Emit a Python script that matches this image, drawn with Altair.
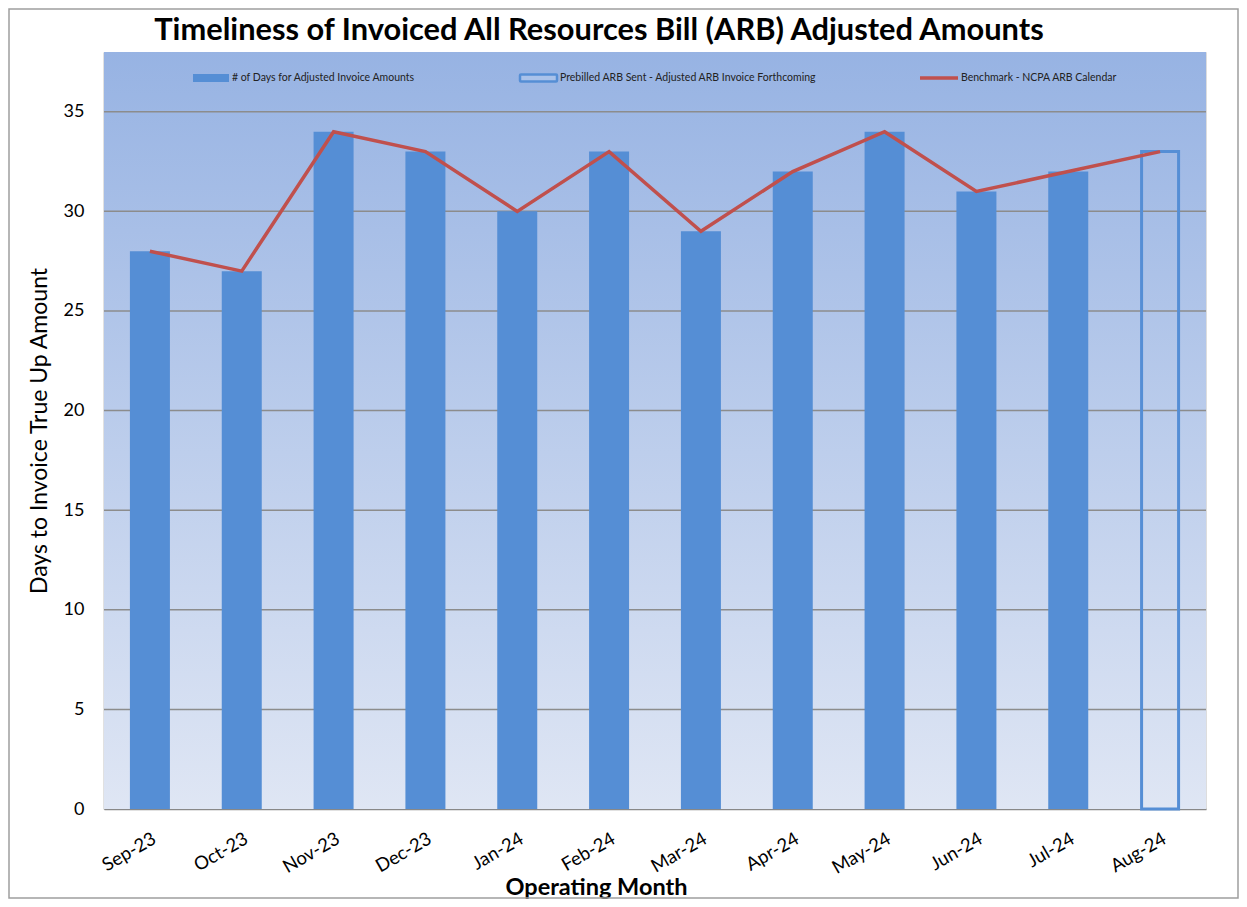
import altair as alt
import pandas as pd

months = ["Sep-23", "Oct-23", "Nov-23", "Dec-23", "Jan-24", "Feb-24",
          "Mar-24", "Apr-24", "May-24", "Jun-24", "Jul-24", "Aug-24"]
days_adjusted = [28, 27, 34, 33, 30, 33, 29, 32, 34, 31, 32, None]
prebilled = [None, None, None, None, None, None, None, None, None, None, None, 33]
benchmark = [28, 27, 34, 33, 30, 33, 29, 32, 34, 31, 32, 33]
grid_values = [5, 10, 15, 20, 25, 30, 35]
y_ticks = [0, 5, 10, 15, 20, 25, 30, 35]
legend_labels = ["# of Days for Adjusted Invoice Amounts",
                 "Prebilled ARB Sent - Adjusted ARB Invoice Forthcoming",
                 "Benchmark - NCPA ARB Calendar"]

TITLE = "Timeliness of Invoiced All Resources Bill (ARB) Adjusted Amounts"
FONT = "Lato"
BLUE = "#558ED5"
RED = "#C0504D"
W, H = 1102, 757

df = pd.DataFrame({"month": months, "days": days_adjusted,
                   "prebilled": prebilled, "benchmark": benchmark})
grid_df = pd.DataFrame({"v": grid_values})

x_enc = alt.X("month:N", sort=months,
              scale=alt.Scale(domain=months, paddingInner=0.55, paddingOuter=0.275),
              axis=alt.Axis(title="Operating Month", labelAngle=330, labelAlign="right",
                            labelBaseline="top", labelPadding=20, ticks=False,
                            labelFont=FONT, labelFontSize=18.5, labelColor="#000",
                            titleFont=FONT, titleFontSize=23.5, titleFontWeight="bold",
                            titleColor="#000", titleX=492, titleY=78,
                            titleBaseline="middle", titleAnchor="start", titleAlign="center",
                            domainColor="#888888", domainWidth=1.5, grid=False))
y_scale = alt.Scale(domain=[0, 38], nice=False)
y_axis = alt.Axis(title="Days to Invoice True Up Amount", values=y_ticks,
                  ticks=False, grid=False, labelPadding=20, labelFont=FONT, labelFontSize=18,
                  labelColor="#000", titleFont=FONT, titleFontSize=23, titleFontWeight="normal",
                  titleColor="#000", titlePadding=12, domainColor="#888888", domainWidth=1.5)

one = alt.Data(values=[{}])

frame = alt.Chart(one).mark_rect(fill=None, fillOpacity=0, stroke="#9E9E9E", strokeWidth=1.5).encode(
    x=alt.value(-95), x2=alt.value(W + 32), y=alt.value(-43), y2=alt.value(H + 89))

background = alt.Chart(one).mark_rect(
    color=alt.Gradient(gradient="linear",
                       stops=[alt.GradientStop(color="#97B3E3", offset=0),
                              alt.GradientStop(color="#DFE6F4", offset=1)],
                       x1=0, x2=0, y1=0, y2=1)
).encode(x=alt.value(0), x2=alt.value(W), y=alt.value(0), y2=alt.value(H))

grid = alt.Chart(grid_df).mark_rule(color="#8C8C8C", strokeWidth=1.5).encode(
    y=alt.Y("v:Q", scale=y_scale, axis=y_axis))

bars = alt.Chart(df).mark_bar(color=BLUE, size=40).encode(
    x=x_enc, y=alt.Y("days:Q", scale=y_scale, axis=y_axis))

outline = alt.Chart(df).mark_bar(fill=None, fillOpacity=0, stroke=BLUE, strokeWidth=3, size=37).encode(
    x=alt.X("month:N", sort=months), y=alt.Y("prebilled:Q", scale=y_scale))

line = alt.Chart(df).mark_line(color=RED, strokeWidth=3.5).encode(
    x=alt.X("month:N", sort=months), y=alt.Y("benchmark:Q", scale=y_scale))

title = alt.Chart(one).mark_text(font=FONT, fontSize=30.8, fontWeight="bold", color="#000",
                                 align="center", baseline="alphabetic").encode(
    x=alt.value(495), y=alt.value(-12), text=alt.value(TITLE))

leg_y = 26
legend_font = dict(font=FONT, fontSize=10.5, color="#222", align="left", baseline="middle")
leg1 = alt.Chart(one).mark_rect(color=BLUE).encode(
    x=alt.value(89), x2=alt.value(125), y=alt.value(leg_y - 4), y2=alt.value(leg_y + 4))
leg1t = alt.Chart(one).mark_text(**legend_font).encode(
    x=alt.value(128), y=alt.value(leg_y), text=alt.value(legend_labels[0]))
leg2 = alt.Chart(one).mark_rect(fill="#A9C2EA", stroke=BLUE, strokeWidth=2.5, cornerRadius=1).encode(
    x=alt.value(416), x2=alt.value(453), y=alt.value(leg_y - 3.5), y2=alt.value(leg_y + 3.5))
leg2t = alt.Chart(one).mark_text(**legend_font).encode(
    x=alt.value(456), y=alt.value(leg_y), text=alt.value(legend_labels[1]))
leg3 = alt.Chart(one).mark_rule(color=RED, strokeWidth=3.5).encode(
    x=alt.value(816), x2=alt.value(854), y=alt.value(leg_y))
leg3t = alt.Chart(one).mark_text(**legend_font).encode(
    x=alt.value(857), y=alt.value(leg_y), text=alt.value(legend_labels[2]))

chart = alt.layer(
    frame, background, grid, bars, outline, line, leg1, leg1t, leg2, leg2t, leg3, leg3t, title
).properties(
    width=W, height=H,
    autosize=alt.AutoSizeParams(type="none"),
    padding={"left": 96, "top": 44, "right": 33, "bottom": 90},
).configure_view(stroke=None).configure(background="white")

chart.save("out.html", embed_options={"renderer": "svg", "actions": False})
